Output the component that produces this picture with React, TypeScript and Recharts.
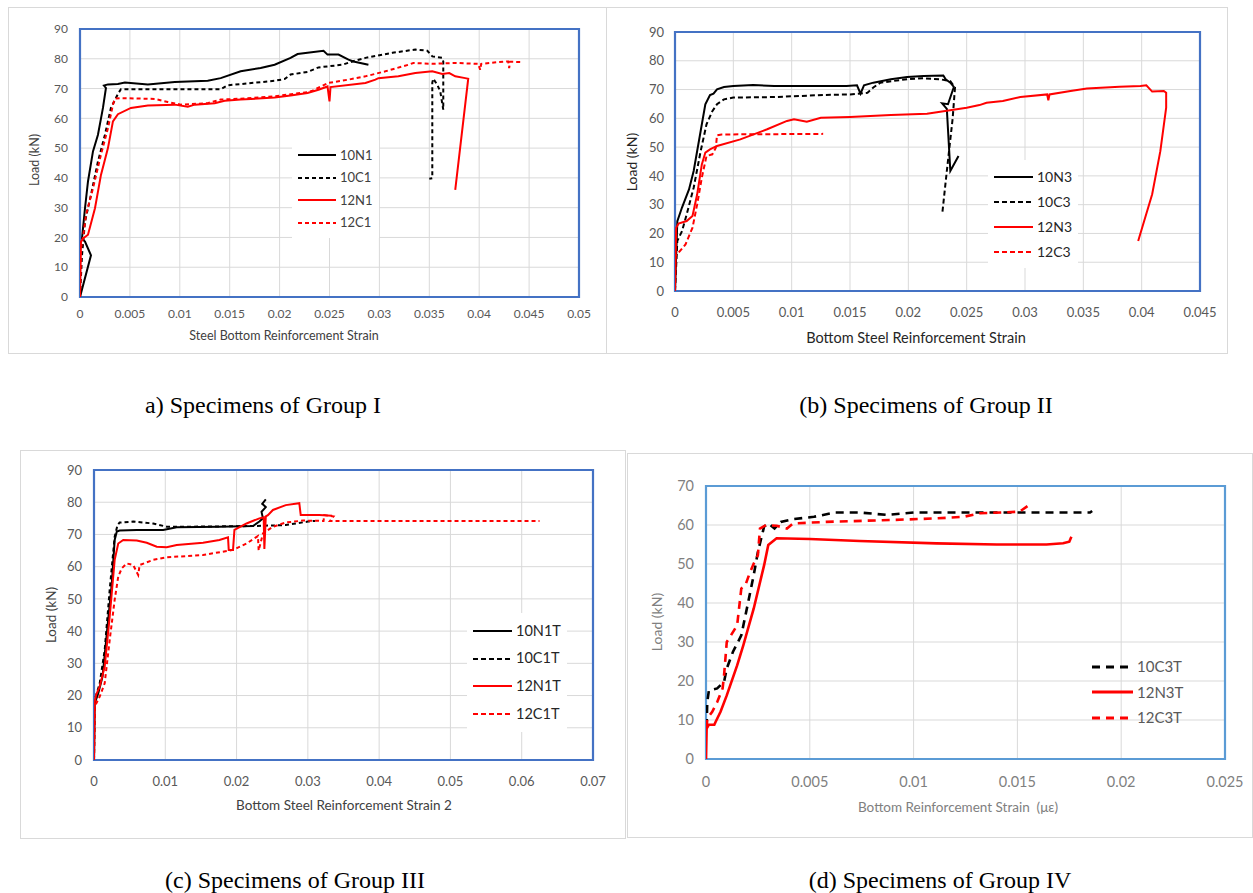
import React from 'react';
import { LineChart, Line, XAxis, YAxis, CartesianGrid, ReferenceArea } from 'recharts';

type Pt = [number, number];

const RED = '#FF0000';
const BLACK = '#000000';
const FONT = 'Lato, "Open Sans", sans-serif';

// ---------- Group I ----------
const g1XTicks = [0, 0.005, 0.01, 0.015, 0.02, 0.025, 0.03, 0.035, 0.04, 0.045, 0.05];
const load90Ticks = [0, 10, 20, 30, 40, 50, 60, 70, 80, 90];

const g1_10N1: Pt[] = [
  [0, 0], [0.0011, 14], [0.0005, 18.6], [0.0002, 19.7], [0.0005, 29.8], [0.0008, 38.8], [0.0013, 48.9],
  [0.0018, 54.5], [0.0023, 63.5], [0.0026, 70.2], [0.0024, 71], [0.0028, 71.4], [0.0038, 71.5], [0.0045, 72],
  [0.0068, 71.4], [0.0095, 72.2], [0.0128, 72.6], [0.0141, 73.5], [0.0161, 75.8], [0.0181, 76.9], [0.0195, 78],
  [0.0211, 80.3], [0.0218, 81.6], [0.0228, 82], [0.0244, 82.7], [0.0248, 81.4], [0.0259, 81.4], [0.0269, 79.7],
  [0.0274, 79.1], [0.0289, 78],
];
const g1_10C1: Pt[] = [
  [0, 0], [0.0002, 14], [0.0005, 25.3], [0.0011, 34.3], [0.0018, 45.5], [0.0025, 54.5], [0.0031, 63.5],
  [0.0038, 68.2], [0.0041, 69.8], [0.0141, 69.8], [0.0148, 71.1], [0.0161, 71.5], [0.0195, 72.6], [0.0205, 73.2],
  [0.0211, 74.7], [0.0228, 75.6], [0.0239, 77.1], [0.0263, 78], [0.0273, 79.1], [0.0286, 80.3], [0.0313, 82],
  [0.0336, 83.1], [0.0348, 82.7], [0.0353, 80.8], [0.0363, 80.3], [0.0364, 79.1], [0.0364, 62.9], [0.0361, 69],
  [0.0358, 71.3], [0.0354, 73.3], [0.0353, 72], [0.0353, 39.9], [0.035, 39.7],
];
const g1_12N1: Pt[] = [
  [0, 0], [0.0001, 18.6], [0.0003, 19.7], [0.0008, 20.9], [0.0015, 29.8], [0.0021, 41], [0.0028, 50],
  [0.0033, 59], [0.0038, 61.4], [0.0051, 63.5], [0.0068, 64.3], [0.0095, 64.6], [0.0108, 63.9], [0.0115, 64.6],
  [0.0135, 65.1], [0.0145, 65.9], [0.0161, 66.3], [0.0195, 67], [0.0211, 67.7], [0.0228, 68.5], [0.0239, 69.6],
  [0.0248, 70.7], [0.025, 65.7], [0.0251, 70.5], [0.0286, 71.9], [0.0296, 73], [0.0299, 73.5], [0.0319, 74.1],
  [0.0336, 75.2], [0.0353, 75.8], [0.0363, 74.9], [0.037, 75.2], [0.0376, 74.1], [0.0386, 73.5], [0.0389, 73.3],
  [0.0376, 36],
];
const g1_12C1: Pt[] = [
  [0, 0], [0.0001, 16.4], [0.0003, 20], [0.0006, 27.6], [0.0013, 36.5], [0.0021, 47.8], [0.0028, 56.7],
  [0.0033, 64.6], [0.0035, 66.6], [0.0041, 66.8], [0.0075, 66.5], [0.0088, 65.5], [0.0101, 64.6], [0.0128, 65.1],
  [0.0141, 66.3], [0.0161, 66.6], [0.0195, 67.4], [0.0228, 68.8], [0.0233, 69.3], [0.0249, 71.9], [0.0269, 73],
  [0.0286, 74.1], [0.0306, 75.8], [0.0329, 78], [0.0334, 78.6], [0.0353, 78.3], [0.0376, 78.6], [0.0399, 78.3],
  [0.0401, 76.3], [0.0402, 78.3], [0.0419, 78.9], [0.0429, 79.1], [0.043, 76.9], [0.0431, 79], [0.0443, 78.9],
];

// ---------- Group II ----------
const g2XTicks = [0, 0.005, 0.01, 0.015, 0.02, 0.025, 0.03, 0.035, 0.04, 0.045];

const g2_10N3: Pt[] = [
  [0, 0], [0.0002, 24.3], [0.0006, 29], [0.0012, 35.3], [0.0016, 41.7], [0.0022, 55.6], [0.0026, 64.9],
  [0.003, 68.1], [0.0033, 68.6], [0.0036, 70.1], [0.0042, 70.9], [0.005, 71.2], [0.0067, 71.6], [0.0085, 71.2],
  [0.0147, 71.2], [0.0156, 71.5], [0.0159, 68.6], [0.0162, 71.5], [0.017, 72.4], [0.0185, 73.6], [0.0199, 74.4],
  [0.0213, 74.7], [0.023, 74.9], [0.0232, 73.6], [0.0236, 72.4], [0.0239, 70.9], [0.0234, 64.9], [0.0229, 65.2],
  [0.0233, 63.3], [0.0236, 41.7], [0.0243, 46.9],
];
const g2_10C3: Pt[] = [
  [0, 0], [0.0002, 17.4], [0.0006, 20.8], [0.001, 26.6], [0.0016, 35.9], [0.0022, 48.6], [0.0027, 57.9],
  [0.0032, 62.5], [0.0036, 64.9], [0.0042, 66.6], [0.005, 67.2], [0.0085, 67.4], [0.0127, 68.1], [0.015, 68.3],
  [0.0165, 68.9], [0.017, 70.7], [0.0176, 72.4], [0.0199, 73.6], [0.0213, 73.9], [0.0227, 73.6], [0.0236, 72.9],
  [0.024, 70.7], [0.0238, 60], [0.0233, 41.7], [0.0229, 26.6],
];
const g2_12N3: Pt[] = [
  [0, 0], [0.0001, 22], [0.0003, 23.4], [0.001, 24.3], [0.0015, 26.1], [0.0019, 33.6], [0.0023, 44],
  [0.0026, 48.1], [0.003, 49.2], [0.0036, 50.4], [0.0056, 52.7], [0.0079, 56.2], [0.0096, 59.1], [0.0102, 59.7],
  [0.0113, 58.8], [0.0125, 60.2], [0.015, 60.5], [0.0185, 61.2], [0.0216, 61.6], [0.0233, 62.6], [0.025, 63.7],
  [0.0261, 64.6], [0.0267, 65.4], [0.0281, 66], [0.0296, 67.4], [0.0319, 68.3], [0.032, 66.3], [0.0321, 68.3],
  [0.0339, 69.5], [0.0353, 70.4], [0.0381, 71], [0.0399, 71.2], [0.0404, 71.5], [0.0409, 69.3], [0.0419, 69.5],
  [0.0421, 68.9], [0.0421, 63.7], [0.0416, 48.6], [0.0409, 33.6], [0.0397, 17.4],
];
const g2_12C3: Pt[] = [
  [0, 0], [0.00003, 12.2], [0.0003, 13.3], [0.0009, 16.2], [0.0015, 22], [0.0019, 30.1], [0.0023, 39.4],
  [0.0027, 46.9], [0.0032, 47.5], [0.0035, 49.8], [0.0036, 54.1], [0.004, 54.4], [0.0127, 54.6],
];

// ---------- Group III ----------
const g3XTicks = [0, 0.01, 0.02, 0.03, 0.04, 0.05, 0.06, 0.07];

const g3_10N1T: Pt[] = [
  [0, 0], [0.0001, 17.6], [0.0006, 20.7], [0.0012, 25.9], [0.0018, 39.3], [0.0025, 54.8], [0.0029, 68.3],
  [0.0032, 70.9], [0.0036, 71.2], [0.006, 71.4], [0.0097, 71.4], [0.0116, 72.2], [0.0176, 72.4], [0.0223, 72.6],
  [0.0232, 74], [0.0237, 75], [0.0235, 77], [0.0241, 78.5], [0.0236, 79.5], [0.0241, 80.9],
];
const g3_10C1T: Pt[] = [
  [0, 0], [0.0001, 18.6], [0.0008, 23.8], [0.0015, 34.1], [0.0022, 52.8], [0.0029, 69.3], [0.0033, 72.9],
  [0.0036, 73.7], [0.0055, 74], [0.0083, 73.4], [0.0102, 72.4], [0.013, 72.4], [0.0223, 72.6], [0.0269, 72.9],
  [0.03, 74], [0.031, 74.2],
];
const g3_12N1T: Pt[] = [
  [0, 0], [0.0001, 18], [0.0003, 20.2], [0.0008, 22.8], [0.0015, 29], [0.0022, 44.5], [0.0029, 62.1],
  [0.0034, 67.2], [0.0041, 68.3], [0.006, 68.1], [0.0074, 67.4], [0.0088, 66.2], [0.0102, 66], [0.0116, 66.7],
  [0.0153, 67.4], [0.0176, 68.3], [0.0188, 69.1], [0.0189, 65.2], [0.0195, 65.2], [0.0197, 71.4], [0.0214, 73.4],
  [0.0232, 75], [0.0238, 75.3], [0.0239, 65.5], [0.0241, 75.6], [0.0244, 76], [0.0251, 77.6], [0.0269, 79.1],
  [0.0288, 79.7], [0.029, 76], [0.0298, 76], [0.0316, 76], [0.0334, 75.8],
];
const g3_12C1T: Pt[] = [
  [0, 0], [0.0001, 16.6], [0.0008, 19.7], [0.0015, 23.8], [0.0022, 37.2], [0.0029, 49.7], [0.0034, 56.9],
  [0.0039, 59.5], [0.0046, 61], [0.0055, 60.5], [0.0062, 57.4], [0.0064, 60.5], [0.0083, 62.1], [0.0102, 62.9],
  [0.0153, 63.6], [0.0195, 65.2], [0.0214, 67.2], [0.023, 69.5], [0.0231, 65], [0.0237, 70.3], [0.0251, 72.4],
  [0.0269, 73.7], [0.0293, 74.3], [0.0322, 74.2], [0.0323, 76], [0.0336, 75.6], [0.0331, 74.2], [0.0625, 74.2],
];

// ---------- Group IV ----------
const g4XTicks = [0, 0.005, 0.01, 0.015, 0.02, 0.025];
const load70Ticks = [0, 10, 20, 30, 40, 50, 60, 70];

const g4_10C3T: Pt[] = [
  [0.00003, 8.2], [0.00006, 14.6], [0.00014, 17.6], [0.00054, 18.1], [0.00087, 19.8], [0.001, 23.2],
  [0.0013, 27.5], [0.0017, 31.7], [0.002, 39.4], [0.0023, 47.2], [0.0025, 53.1], [0.0028, 59.6], [0.003, 60.4],
  [0.0033, 59.1], [0.0036, 60.8], [0.0042, 61.5], [0.0052, 62.1], [0.0062, 63.2], [0.0074, 63.2], [0.0087, 62.6],
  [0.01, 63.2], [0.0185, 63.2], [0.0186, 63.6],
];
const g4_12N3T: Pt[] = [
  [0, 0], [0.00003, 7.8], [0.00014, 8.8], [0.0004, 8.8], [0.00046, 9.5], [0.0007, 12.1], [0.001, 16.3],
  [0.0015, 24], [0.0018, 29.2], [0.0023, 38.6], [0.0028, 49.7], [0.003, 54.9], [0.0034, 56.6], [0.005, 56.4],
  [0.0074, 55.9], [0.0111, 55.3], [0.014, 55], [0.0164, 55], [0.0172, 55.3], [0.0175, 55.7], [0.0176, 57],
];
const g4_12C3T: Pt[] = [
  [0.00003, 8], [0.00006, 10.4], [0.0003, 12.1], [0.00054, 14.6], [0.0008, 18.1], [0.00087, 21.5], [0.001, 30],
  [0.0012, 31.7], [0.0015, 34.3], [0.0017, 43.7], [0.0019, 44.6], [0.0021, 47.6], [0.0023, 50.1], [0.0025, 52.3],
  [0.0026, 59.1], [0.0029, 60], [0.0034, 59.8], [0.0039, 59.1], [0.0042, 60.4], [0.0058, 60.8], [0.009, 61.3],
  [0.0111, 61.7], [0.0124, 62.1], [0.0132, 63], [0.0151, 63.4], [0.0155, 64.9],
];

interface Series { name: string; pts: Pt[]; color: string; dashed: boolean }

const toData = (p: Pt[]) => p.map(([x, y]) => ({ x, y }));

function Panel(props: any) {
  const { box, margin, yWidth, xHeight, xTicks, yTicks, series, border, lineW, dash, fs, tickColor, xtm, ytm } = props;
  const xMax = xTicks[xTicks.length - 1];
  const yMax = yTicks[yTicks.length - 1];
  const tick = { fill: tickColor, fontSize: fs, fontFamily: FONT };
  return (
    <div style={{ position: 'absolute', left: box[0], top: box[1] }}>
      <LineChart width={box[2]} height={box[3]} margin={margin}>
        <CartesianGrid stroke="#d9d9d9" strokeWidth={1} />
        <XAxis type="number" dataKey="x" domain={[0, xMax]} ticks={xTicks} height={xHeight}
          axisLine={false} tickLine={false} tick={tick} tickMargin={xtm} interval={0} allowDataOverflow />
        <YAxis type="number" domain={[0, yMax]} ticks={yTicks} width={yWidth}
          axisLine={false} tickLine={false} tick={tick} tickMargin={ytm} interval={0} allowDataOverflow />
        {series.map((s: Series) => (
          <Line key={s.name} data={toData(s.pts)} dataKey="y" stroke={s.color} strokeWidth={lineW}
            strokeDasharray={s.dashed ? dash : undefined} dot={false} activeDot={false}
            type="linear" isAnimationActive={false} />
        ))}
        <ReferenceArea x1={0} x2={xMax} y1={0} y2={yMax} fill="none" stroke={border} strokeWidth={2.2} />
      </LineChart>
    </div>
  );
}

function LegendBox(props: any) {
  const { left, top, rowH, lineLen, fs, color, series, lineW, dash, bg } = props;
  return (
    <div style={{ position: 'absolute', left, top, background: bg ? '#fff' : 'transparent', padding: '4px 6px 4px 6px' }}>
      {series.map((s: Series) => (
        <div key={s.name} style={{ height: rowH, display: 'flex', alignItems: 'center' }}>
          <svg width={lineLen} height={6} style={{ marginRight: 4 }}>
            <line x1={0} y1={3} x2={lineLen} y2={3} stroke={s.color} strokeWidth={lineW}
              strokeDasharray={s.dashed ? dash : undefined} />
          </svg>
          <span style={{ fontFamily: FONT, fontSize: fs, color, lineHeight: 1 }}>{s.name}</span>
        </div>
      ))}
    </div>
  );
}

const Txt = ({ x, y, fs, color, children, rotate, family }: any) => (
  <div style={{
    position: 'absolute', left: x, top: y, transform: `translate(-50%, -50%)${rotate ? ' rotate(-90deg)' : ''}`,
    fontFamily: family || FONT, fontSize: fs, color, whiteSpace: 'nowrap', lineHeight: 1,
  }}>{children}</div>
);

const Frame = ({ l, t, r, b }: any) => (
  <div style={{ position: 'absolute', left: l, top: t, width: r - l, height: b - t, border: '1.5px solid #d9d9d9', boxSizing: 'border-box' }} />
);

const SERIF = '"Times New Roman", "Liberation Serif", serif';

export default function App() {
  const s1: Series[] = [
    { name: '10N1', pts: g1_10N1, color: BLACK, dashed: false },
    { name: '10C1', pts: g1_10C1, color: BLACK, dashed: true },
    { name: '12N1', pts: g1_12N1, color: RED, dashed: false },
    { name: '12C1', pts: g1_12C1, color: RED, dashed: true },
  ];
  const s2: Series[] = [
    { name: '10N3', pts: g2_10N3, color: BLACK, dashed: false },
    { name: '10C3', pts: g2_10C3, color: BLACK, dashed: true },
    { name: '12N3', pts: g2_12N3, color: RED, dashed: false },
    { name: '12C3', pts: g2_12C3, color: RED, dashed: true },
  ];
  const s3: Series[] = [
    { name: '10N1T', pts: g3_10N1T, color: BLACK, dashed: false },
    { name: '10C1T', pts: g3_10C1T, color: BLACK, dashed: true },
    { name: '12N1T', pts: g3_12N1T, color: RED, dashed: false },
    { name: '12C1T', pts: g3_12C1T, color: RED, dashed: true },
  ];
  const s4: Series[] = [
    { name: '10C3T', pts: g4_10C3T, color: BLACK, dashed: true },
    { name: '12N3T', pts: g4_12N3T, color: RED, dashed: false },
    { name: '12C3T', pts: g4_12C3T, color: RED, dashed: true },
  ];

  return (
    <div style={{ position: 'absolute', left: 0, top: 0, width: 1253, height: 893, background: '#fff', overflow: 'hidden' }}>
      <Frame l={8} t={7} r={607} b={354} />
      <Frame l={606} t={7} r={1228} b={354} />
      <Frame l={20} t={450} r={626} b={839} />
      <Frame l={627} t={453} r={1253} b={838} />

      {/* Group I */}
      <Panel box={[8, 8, 598, 345]} margin={{ top: 21, right: 27, bottom: 30, left: 0 }} yWidth={72} xHeight={26}
        xTicks={g1XTicks} yTicks={load90Ticks} series={s1} border="#4472C4" lineW={2} dash="4 3"
        fs={12} tickColor="#595959" xtm={6} ytm={6} />
      <Txt x={284} y={336} fs={12.5} color="#404040">Steel Bottom Reinforcement Strain</Txt>
      <Txt x={35} y={160} fs={12.5} color="#404040" rotate>Load (kN)</Txt>
      <LegendBox left={292} top={140} rowH={22.5} lineLen={38} fs={13} color="#404040" series={s1} lineW={2} dash="4 3" bg />

      {/* Group II */}
      <Panel box={[607, 7, 620, 346]} margin={{ top: 25, right: 27, bottom: 32, left: 0 }} yWidth={68} xHeight={30}
        xTicks={g2XTicks} yTicks={load90Ticks} series={s2} border="#4472C4" lineW={2} dash="5 3"
        fs={13} tickColor="#595959" xtm={11} ytm={5} />
      <Txt x={916} y={338} fs={14.5} color="#262626">Bottom Steel Reinforcement Strain</Txt>
      <Txt x={632} y={162} fs={14} color="#262626" rotate>Load (kN)</Txt>
      <LegendBox left={988} top={160} rowH={25} lineLen={39} fs={14} color="#262626" series={s2} lineW={2} dash="5 3" bg />

      {/* Group III */}
      <Panel box={[20, 450, 605, 388]} margin={{ top: 20, right: 32, bottom: 48, left: 0 }} yWidth={74} xHeight={30}
        xTicks={g3XTicks} yTicks={load90Ticks} series={s3} border="#4472C4" lineW={2} dash="4 3"
        fs={13} tickColor="#595959" xtm={11} ytm={6} />
      <Txt x={344} y={806} fs={13.5} color="#404040">Bottom Steel Reinforcement Strain 2</Txt>
      <Txt x={52} y={615} fs={13.5} color="#404040" rotate>Load (kN)</Txt>
      <LegendBox left={467} top={613} rowH={27.7} lineLen={39} fs={14.5} color="#262626" series={s3} lineW={2.2} dash="5 3" bg />

      {/* Group IV */}
      <Panel box={[627, 453, 623, 384]} margin={{ top: 33, right: 25, bottom: 48, left: 0 }} yWidth={79} xHeight={30}
        xTicks={g4XTicks} yTicks={load70Ticks} series={s4} border="#5B9BD5" lineW={2.6} dash="8 6"
        fs={14.5} tickColor="#7F7F7F" xtm={12} ytm={6} />
      <Txt x={958} y={808} fs={13.5} color="#808080">Bottom Reinforcement Strain&nbsp;&nbsp;(με)</Txt>
      <Txt x={657} y={622} fs={14} color="#808080" rotate>Load (kN)</Txt>
      <LegendBox left={1086} top={650} rowH={25.5} lineLen={41} fs={15} color="#595959" series={s4} lineW={3} dash="8 6" />

      {/* Captions */}
      <Txt x={263} y={405} fs={24} color="#000" family={SERIF}>a) Specimens of Group I</Txt>
      <Txt x={926} y={405} fs={24} color="#000" family={SERIF}>(b) Specimens of Group II</Txt>
      <Txt x={295} y={880} fs={24} color="#000" family={SERIF}>(c) Specimens of Group III</Txt>
      <Txt x={940} y={880} fs={24} color="#000" family={SERIF}>(d) Specimens of Group IV</Txt>
    </div>
  );
}
